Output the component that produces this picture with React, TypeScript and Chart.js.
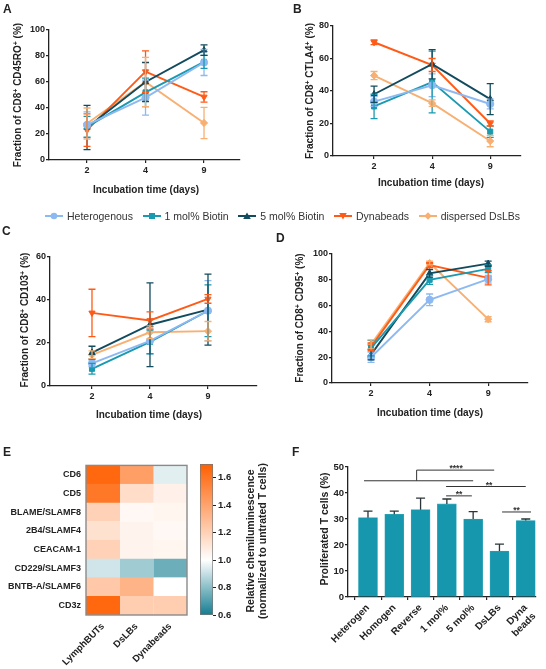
import React, { useEffect, useRef } from 'react';
import { Chart, registerables } from 'chart.js';

Chart.register(...registerables);
Chart.defaults.font.family = 'Arial, "Liberation Sans", sans-serif';
Chart.defaults.color = '#222';

// ---- time-course panels (A–D) ----
const DAYS = ['2', '4', '9'];
const SERIES = ['Heterogenous', '1 mol% Biotin', '5 mol% Biotin', 'Dynabeads', 'dispersed DsLBs'];
const SERIES_COLORS = ['#8DB9F2', '#1A9AB0', '#124B5E', '#FF5B17', '#F8B072'];
const SERIES_POINTS = ['circle', 'rect', 'triangle', 'triangle', 'rectRot'];
const SERIES_ROT = [0, 0, 0, 180, 0];

// mean and SD per series (rows follow SERIES), columns follow DAYS
const CD45RO_MEAN = [[27, 48, 75], [25.5, 52, 75.5], [25, 60, 84.5], [23, 68, 48.5], [28, 60, 28.5]];
const CD45RO_SD = [[10, 13.5, 10], [8, 11, 5], [17, 15, 4], [12.5, 16, 4], [12, 19, 12]];

const CTLA4_MEAN = [[33.5, 43.5, 32], [30.5, 45.5, 15], [38, 56.5, 35], [70, 56, 20], [49.5, 32.5, 9.2]];
const CTLA4_SD = [[3, 7, 3], [7.5, 19, 3.5], [5, 9, 9.5], [1.5, 4, 1.6], [2.5, 2, 3.5]];

const CD103_MEAN = [[10.5, 21, 35], [8, 20.5, 35], [15.5, 28.5, 35.5], [34, 30.5, 40.5], [14.5, 25, 25.5]];
const CD103_SD = [[1.5, 6, 14], [2.5, 5.5, 12], [3, 19.5, 16.5], [11, 4, 2], [1.8, 3, 4.5]];

const CD95_MEAN = [[20, 64.5, 80.5], [27, 80, 88.5], [22, 85, 92.5], [28, 91.5, 81.5], [30, 93, 49.5]];
const CD95_SD = [[4, 4.5, 3], [6, 3.5, 3], [4, 3, 2], [3, 2, 5.5], [3.5, 1.5, 2]];

// ---- heatmap (E) ----
const HEAT_ROWS = ['CD6', 'CD5', 'BLAME/SLAMF8', '2B4/SLAMF4', 'CEACAM-1', 'CD229/SLAMF3', 'BNTB-A/SLAMF6', 'CD3z'];
const HEAT_COLS = ['LymphBUTs', 'DsLBs', 'Dynabeads'];
const HEAT_LYMPHBUTS = [1.66, 1.59, 1.2, 1.13, 1.2, 0.92, 1.24, 1.66];
const HEAT_DSLBS = [1.42, 1.15, 1.03, 1.05, 1.05, 0.84, 1.33, 1.22];
const HEAT_DYNABEADS = [0.95, 1.06, 1.04, 1.03, 1.04, 0.75, 1.0, 1.22];
const HEAT_TICKS = [0.6, 0.8, 1.0, 1.2, 1.4, 1.6];
const HEAT_MIN = 0.6;
const HEAT_MAX = 1.7;

// ---- proliferation (F) ----
const PROLIF_LABELS: (string | string[])[] = ['Heterogen', 'Homogen', 'Reverse', '1 mol%', '5 mol%', 'DsLBs', ['Dyna', 'beads']];
const PROLIF_MEAN = [30.5, 31.8, 33.6, 35.8, 30, 17.7, 29.4];
const PROLIF_SD = [2.5, 1.2, 4.4, 1.9, 2.8, 2.6, 0.6];
// significance brackets: [x1, y1, x2, y2] in bar-index / percent units
const SIG_SEGMENTS = [
  [-0.15, 44.7, 4.0, 44.7],
  [1.85, 44.7, 1.85, 48.8],
  [1.85, 48.8, 4.8, 48.8],
  [2.97, 42.5, 6.0, 42.5],
  [2.97, 38.9, 3.95, 38.9],
  [5.1, 32.7, 6.2, 32.7],
];
const SIG_MARKS: [string, number, number][] = [['****', 3.35, 48.8], ['**', 4.6, 42.5], ['**', 3.46, 38.9], ['**', 5.65, 32.7]];

const AXIS = '#222';
const BAR_COLOR = '#1797AE';

type Frame = { x: number; y: number; w: number; h: number };
type Area = { l: number; t: number; r: number; b: number };

const tickFont = (size: number) => ({ size, weight: 'bold' as const });

function heatColor(v: number): string {
  if (v >= 1) {
    const t = Math.min(1, (v - 1) / (HEAT_MAX - 1));
    return `rgb(255,${Math.round(255 - t * 160)},${Math.round(255 - t * 255)})`;
  }
  const t = Math.min(1, (1 - v) / (1 - HEAT_MIN));
  return `rgb(${Math.round(255 - t * 235)},${Math.round(255 - t * 130)},${Math.round(255 - t * 110)})`;
}

const errorBars = {
  id: 'errorBars',
  afterDatasetsDraw(chart: any) {
    const ctx = chart.ctx;
    const ys = chart.scales.y;
    chart.data.datasets.forEach((ds: any, i: number) => {
      const meta = chart.getDatasetMeta(i);
      ctx.save();
      ctx.strokeStyle = ds.borderColor;
      ctx.lineWidth = 1.3;
      meta.data.forEach((pt: any, j: number) => {
        const m = ds.data[j].y;
        const s = ds.sd[j];
        const top = ys.getPixelForValue(m + s);
        const bot = ys.getPixelForValue(Math.max(0, m - s));
        ctx.beginPath();
        ctx.moveTo(pt.x, top);
        ctx.lineTo(pt.x, bot);
        ctx.moveTo(pt.x - 3.5, top);
        ctx.lineTo(pt.x + 3.5, top);
        ctx.moveTo(pt.x - 3.5, bot);
        ctx.lineTo(pt.x + 3.5, bot);
        ctx.stroke();
      });
      ctx.restore();
    });
  },
};

function axisStyle() {
  return {
    grid: { display: true, drawOnChartArea: false, drawTicks: true, tickLength: 3, color: AXIS, lineWidth: 1.2 },
    border: { display: true, color: AXIS, width: 1.3 },
  };
}

function lineConfig(frame: Frame, area: Area, mean: number[][], sd: number[][], yMax: number, xMin: number, xMax: number) {
  return {
    type: 'line',
    data: {
      datasets: SERIES.map((name, i) => ({
        label: name,
        data: mean[i].map((v, j) => ({ x: j, y: v })),
        sd: sd[i],
        borderColor: SERIES_COLORS[i],
        backgroundColor: SERIES_COLORS[i],
        borderWidth: 1.9,
        pointStyle: SERIES_POINTS[i],
        pointRotation: SERIES_ROT[i],
        pointRadius: 3.6,
        pointBorderWidth: 1,
        tension: 0,
      })),
    },
    options: {
      animation: false,
      responsive: false,
      maintainAspectRatio: false,
      layout: { padding: { left: 0, bottom: 0, top: area.t - frame.y, right: frame.x + frame.w - area.r } },
      plugins: { legend: { display: false }, tooltip: { enabled: false } },
      scales: {
        x: {
          type: 'linear',
          min: xMin,
          max: xMax,
          ...axisStyle(),
          afterBuildTicks: (s: any) => {
            s.ticks = DAYS.map((_, i) => ({ value: i }));
          },
          ticks: { font: tickFont(9), padding: 2, callback: (v: any) => DAYS[v] ?? '' },
          afterFit: (s: any) => {
            s.height = frame.y + frame.h - area.b;
          },
        },
        y: {
          min: 0,
          max: yMax,
          ...axisStyle(),
          ticks: { font: tickFont(9), padding: 1, stepSize: 20 },
          afterFit: (s: any) => {
            s.width = area.l - frame.x;
          },
        },
      },
    },
    plugins: [errorBars],
  };
}

const heatFrame = {
  id: 'heatFrame',
  afterDatasetsDraw(chart: any) {
    const { left, top, right, bottom } = chart.chartArea;
    const ctx = chart.ctx;
    ctx.save();
    ctx.strokeStyle = '#8a8a8a';
    ctx.lineWidth = 1.4;
    ctx.strokeRect(left, top, right - left, bottom - top);
    ctx.restore();
  },
};

function heatConfig(frame: Frame, area: Area) {
  const cols = [HEAT_LYMPHBUTS, HEAT_DSLBS, HEAT_DYNABEADS];
  return {
    type: 'bar',
    data: {
      labels: HEAT_ROWS,
      datasets: HEAT_COLS.map((col, c) => ({
        label: col,
        xAxisID: 'x',
        yAxisID: 'y',
        data: HEAT_ROWS.map(() => 1),
        backgroundColor: cols[c].map(heatColor),
        borderColor: cols[c].map(heatColor),
        borderWidth: 0.5,
        barPercentage: 1,
        categoryPercentage: 1,
      })),
    },
    options: {
      indexAxis: 'y',
      animation: false,
      responsive: false,
      maintainAspectRatio: false,
      layout: { padding: { left: 0, bottom: 0, top: area.t - frame.y, right: frame.x + frame.w - area.r } },
      plugins: { legend: { display: false }, tooltip: { enabled: false } },
      scales: {
        x: { stacked: true, min: 0, max: 3, display: false },
        xl: {
          type: 'category',
          labels: HEAT_COLS,
          position: 'bottom',
          offset: true,
          grid: { display: false, drawTicks: false, tickLength: 0 },
          border: { display: false },
          ticks: { font: tickFont(9.5), maxRotation: 45, minRotation: 45, autoSkip: false, padding: 6 },
          afterFit: (s: any) => {
            s.height = frame.y + frame.h - area.b;
          },
        },
        y: {
          stacked: true,
          grid: { display: false, drawTicks: false, tickLength: 0 },
          border: { display: false },
          ticks: { font: tickFont(9), padding: 5, autoSkip: false },
          afterFit: (s: any) => {
            s.width = area.l - frame.x;
          },
        },
      },
    },
    plugins: [heatFrame],
  };
}

function colorbarFill(context: any) {
  const chart = context.chart;
  const ys = chart.scales && chart.scales.y;
  if (!ys) return '#fff';
  const y0 = ys.getPixelForValue(HEAT_MIN);
  const y1 = ys.getPixelForValue(HEAT_MAX);
  if (!Number.isFinite(y0) || !Number.isFinite(y1) || y0 === y1) return '#fff';
  const g = chart.ctx.createLinearGradient(0, y0, 0, y1);
  for (let k = 0; k <= 22; k++) {
    const v = HEAT_MIN + ((HEAT_MAX - HEAT_MIN) * k) / 22;
    g.addColorStop(k / 22, heatColor(v));
  }
  return g;
}

function colorbarConfig(frame: Frame, area: Area) {
  return {
    type: 'bar',
    data: {
      labels: [''],
      datasets: [
        {
          data: [[HEAT_MIN, HEAT_MAX]],
          backgroundColor: colorbarFill,
          borderColor: '#777',
          borderWidth: 1,
          borderSkipped: false,
          barPercentage: 1,
          categoryPercentage: 1,
        },
      ],
    },
    options: {
      animation: false,
      responsive: false,
      maintainAspectRatio: false,
      layout: { padding: { left: 0, right: 0, top: area.t - frame.y, bottom: frame.y + frame.h - area.b } },
      plugins: { legend: { display: false }, tooltip: { enabled: false } },
      scales: {
        x: { display: false },
        y: {
          position: 'right',
          min: HEAT_MIN,
          max: HEAT_MAX,
          grid: { display: true, drawOnChartArea: false, tickLength: 3, color: AXIS, lineWidth: 1 },
          border: { display: false },
          afterBuildTicks: (s: any) => {
            s.ticks = HEAT_TICKS.map((v) => ({ value: v }));
          },
          ticks: { font: tickFont(9.5), padding: 2, callback: (v: any) => Number(v).toFixed(1) },
          afterFit: (s: any) => {
            s.width = frame.x + frame.w - area.r;
          },
        },
      },
    },
  };
}

const barDecor = {
  id: 'barDecor',
  afterDatasetsDraw(chart: any) {
    const ctx = chart.ctx;
    const xs = chart.scales.x;
    const ys = chart.scales.y;
    const meta = chart.getDatasetMeta(0);
    ctx.save();
    ctx.strokeStyle = '#2b3437';
    ctx.lineWidth = 1.3;
    meta.data.forEach((bar: any, j: number) => {
      const m = PROLIF_MEAN[j];
      const top = ys.getPixelForValue(m + PROLIF_SD[j]);
      const base = ys.getPixelForValue(m);
      ctx.beginPath();
      ctx.moveTo(bar.x, base);
      ctx.lineTo(bar.x, top);
      ctx.moveTo(bar.x - 4.5, top);
      ctx.lineTo(bar.x + 4.5, top);
      ctx.stroke();
    });
    ctx.strokeStyle = '#333';
    ctx.lineWidth = 1;
    SIG_SEGMENTS.forEach(([x1, y1, x2, y2]) => {
      ctx.beginPath();
      ctx.moveTo(xs.getPixelForValue(x1), ys.getPixelForValue(y1));
      ctx.lineTo(xs.getPixelForValue(x2), ys.getPixelForValue(y2));
      ctx.stroke();
    });
    ctx.fillStyle = '#333';
    ctx.font = 'bold 8.5px Arial, "Liberation Sans", sans-serif';
    ctx.textAlign = 'center';
    ctx.textBaseline = 'alphabetic';
    SIG_MARKS.forEach(([txt, x, y]) => {
      ctx.fillText(txt, xs.getPixelForValue(x), ys.getPixelForValue(y) + 1);
    });
    ctx.restore();
  },
};

function barConfig(frame: Frame, area: Area) {
  return {
    type: 'bar',
    data: {
      datasets: [
        {
          data: PROLIF_MEAN.map((v, i) => ({ x: i, y: v })),
          backgroundColor: BAR_COLOR,
          borderColor: '#3aaabd',
          borderWidth: 0.6,
          barThickness: 19,
        },
      ],
    },
    options: {
      animation: false,
      responsive: false,
      maintainAspectRatio: false,
      layout: { padding: { left: 0, bottom: 0, top: area.t - frame.y, right: frame.x + frame.w - area.r } },
      plugins: { legend: { display: false }, tooltip: { enabled: false } },
      scales: {
        x: {
          type: 'linear',
          min: -0.76,
          max: 6.39,
          offset: false,
          ...axisStyle(),
          afterBuildTicks: (s: any) => {
            s.ticks = PROLIF_LABELS.map((_, i) => ({ value: i }));
          },
          ticks: {
            font: tickFont(10),
            maxRotation: 45,
            minRotation: 45,
            autoSkip: false,
            padding: 2,
            callback: (v: any) => PROLIF_LABELS[v] ?? '',
          },
          afterFit: (s: any) => {
            s.height = frame.y + frame.h - area.b;
          },
        },
        y: {
          min: 0,
          max: 50,
          ...axisStyle(),
          ticks: { font: tickFont(9.5), padding: 1, stepSize: 10 },
          afterFit: (s: any) => {
            s.width = area.l - frame.x;
          },
        },
      },
    },
    plugins: [barDecor],
  };
}

function ChartBox({ frame, build }: { frame: Frame; build: () => any }) {
  const ref = useRef<HTMLCanvasElement | null>(null);
  useEffect(() => {
    if (!ref.current) return;
    let chart: Chart | null = null;
    try {
      chart = new Chart(ref.current, build());
    } catch (e) {
      console.error(e);
    }
    return () => {
      if (chart) chart.destroy();
    };
  }, []);
  return (
    <canvas
      ref={ref}
      width={frame.w}
      height={frame.h}
      style={{ position: 'absolute', left: frame.x, top: frame.y, width: frame.w, height: frame.h }}
    />
  );
}

function Txt({ x, y, rot = 0, size = 10, weight = 'bold', lh = 1.15, children }: any) {
  return (
    <div
      style={{
        position: 'absolute',
        left: x,
        top: y,
        transform: `translate(-50%, -50%) rotate(${rot}deg)`,
        fontSize: size,
        fontWeight: weight,
        lineHeight: lh,
        whiteSpace: 'nowrap',
        textAlign: 'center',
      }}
    >
      {children}
    </div>
  );
}

function Letter({ x, y, children }: any) {
  return (
    <div style={{ position: 'absolute', left: x, top: y, fontSize: 12, fontWeight: 'bold', lineHeight: 1 }}>{children}</div>
  );
}

const Sup = ({ children }: any) => (
  <sup style={{ fontSize: '0.7em', verticalAlign: '0.5em', lineHeight: 0 }}>{children}</sup>
);

function Marker({ i }: { i: number }) {
  const c = SERIES_COLORS[i];
  const cx = 9;
  const cy = 5;
  let shape: any = null;
  const kind = SERIES_POINTS[i];
  if (kind === 'circle') shape = <circle cx={cx} cy={cy} r={3.3} fill={c} />;
  else if (kind === 'rect') shape = <rect x={cx - 3} y={cy - 3} width={6} height={6} fill={c} />;
  else if (kind === 'rectRot') shape = <polygon points={`${cx},${cy - 3.8} ${cx + 3.8},${cy} ${cx},${cy + 3.8} ${cx - 3.8},${cy}`} fill={c} />;
  else if (SERIES_ROT[i] === 180) shape = <polygon points={`${cx - 3.8},${cy - 3} ${cx + 3.8},${cy - 3} ${cx},${cy + 3.5}`} fill={c} />;
  else shape = <polygon points={`${cx - 3.8},${cy + 3} ${cx + 3.8},${cy + 3} ${cx},${cy - 3.5}`} fill={c} />;
  return (
    <svg width={18} height={10} style={{ display: 'block' }}>
      <line x1={0} y1={cy} x2={18} y2={cy} stroke={c} strokeWidth={2} />
      {shape}
    </svg>
  );
}

const FRAME_A: Frame = { x: 0, y: 0, w: 270, h: 205 };
const AREA_A: Area = { l: 49, t: 30, r: 240, b: 160 };
const FRAME_B: Frame = { x: 273, y: 0, w: 273, h: 200 };
const AREA_B: Area = { l: 333, t: 26, r: 521, b: 156 };
const FRAME_C: Frame = { x: 0, y: 235, w: 270, h: 200 };
const AREA_C: Area = { l: 50, t: 257, r: 257, b: 386 };
const FRAME_D: Frame = { x: 273, y: 235, w: 273, h: 200 };
const AREA_D: Area = { l: 332, t: 254, r: 528, b: 383 };
const FRAME_E: Frame = { x: 0, y: 455, w: 195, h: 214 };
const AREA_E: Area = { l: 86, t: 463, r: 187, b: 615 };
const FRAME_CB: Frame = { x: 200, y: 455, w: 45, h: 170 };
const AREA_CB: Area = { l: 200, t: 464, r: 213, b: 615 };
const FRAME_F: Frame = { x: 280, y: 455, w: 266, h: 214 };
const AREA_F: Area = { l: 348, t: 467, r: 536, b: 597 };

export default function App() {
  return (
    <div
      style={{
        position: 'absolute',
        left: 0,
        top: 0,
        width: 546,
        height: 669,
        background: '#fff',
        overflow: 'hidden',
        fontFamily: 'Arial, "Liberation Sans", sans-serif',
        color: '#222',
      }}
    >
      <ChartBox frame={FRAME_A} build={() => lineConfig(FRAME_A, AREA_A, CD45RO_MEAN, CD45RO_SD, 100, -0.65, 2.615)} />
      <ChartBox frame={FRAME_B} build={() => lineConfig(FRAME_B, AREA_B, CTLA4_MEAN, CTLA4_SD, 80, -0.707, 2.53)} />
      <ChartBox frame={FRAME_C} build={() => lineConfig(FRAME_C, AREA_C, CD103_MEAN, CD103_SD, 60, -0.724, 2.845)} />
      <ChartBox frame={FRAME_D} build={() => lineConfig(FRAME_D, AREA_D, CD95_MEAN, CD95_SD, 100, -0.667, 2.68)} />
      <ChartBox frame={FRAME_E} build={() => heatConfig(FRAME_E, AREA_E)} />
      <ChartBox frame={FRAME_CB} build={() => colorbarConfig(FRAME_CB, AREA_CB)} />
      <ChartBox frame={FRAME_F} build={() => barConfig(FRAME_F, AREA_F)} />

      <Letter x={3} y={3}>A</Letter>
      <Letter x={293} y={3}>B</Letter>
      <Letter x={2} y={225}>C</Letter>
      <Letter x={276} y={232}>D</Letter>
      <Letter x={3} y={446}>E</Letter>
      <Letter x={292} y={446}>F</Letter>

      <Txt x={18} y={95} rot={-90}>
        Fraction of CD8<Sup>+</Sup> CD45RO<Sup>+</Sup> (%)
      </Txt>
      <Txt x={146} y={190}>Incubation time (days)</Txt>
      <Txt x={310} y={91} rot={-90}>
        Fraction of CD8<Sup>+</Sup> CTLA4<Sup>+</Sup> (%)
      </Txt>
      <Txt x={431} y={183}>Incubation time (days)</Txt>
      <Txt x={25} y={320} rot={-90}>
        Fraction of CD8<Sup>+</Sup> CD103<Sup>+</Sup> (%)
      </Txt>
      <Txt x={149} y={415}>Incubation time (days)</Txt>
      <Txt x={300} y={318} rot={-90}>
        Fraction of CD8<Sup>+</Sup> CD95<Sup>+</Sup> (%)
      </Txt>
      <Txt x={430} y={413}>Incubation time (days)</Txt>

      <Txt x={256} y={541} rot={-90} size={10.5} lh="12px">
        Relative chemiluminescence
        <br />
        (normalized to untrated T cells)
      </Txt>
      <Txt x={324} y={529} rot={-90} size={10.5}>
        Proliferated T cells (%)
      </Txt>

      <div
        style={{
          position: 'absolute',
          left: 45,
          top: 209,
          width: 475,
          height: 14,
          display: 'flex',
          justifyContent: 'space-between',
          alignItems: 'center',
          fontSize: 10.5,
          color: '#333',
        }}
      >
        {SERIES.map((name, i) => (
          <div key={name} style={{ display: 'flex', alignItems: 'center', gap: 4 }}>
            <Marker i={i} />
            <span>{name}</span>
          </div>
        ))}
      </div>
    </div>
  );
}
